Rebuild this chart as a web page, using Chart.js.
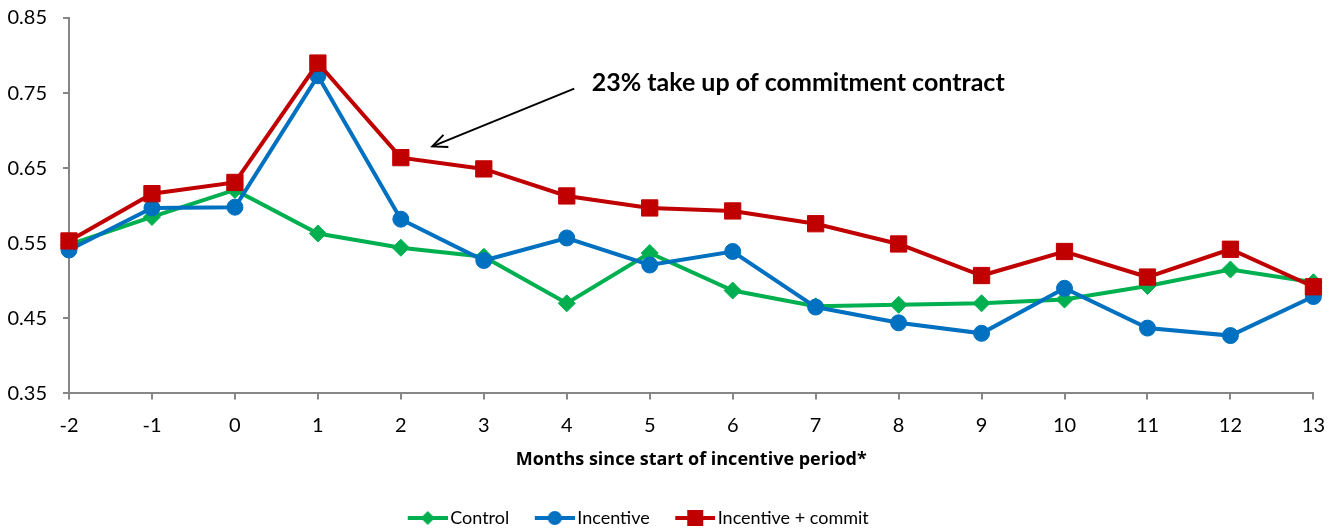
<!DOCTYPE html>
<html>
<head>
<meta charset="utf-8">
<script src="https://cdn.jsdelivr.net/npm/chart.js@4.4.1/dist/chart.umd.min.js"></script>
<style>
  html, body { margin: 0; padding: 0; background: #ffffff; }
  #wrap { width: 1339px; height: 531px; position: relative; }
</style>
</head>
<body>
<div id="wrap"><canvas id="c"></canvas></div>
<script>
// ---- data ----
const months = ['-2','-1','0','1','2','3','4','5','6','7','8','9','10','11','12','13'];
const controlValues   = [0.548, 0.585, 0.621, 0.563, 0.544, 0.532, 0.470, 0.537, 0.487, 0.466, 0.468, 0.470, 0.475, 0.493, 0.515, 0.498];
const incentiveValues = [0.541, 0.597, 0.598, 0.773, 0.582, 0.527, 0.557, 0.521, 0.539, 0.465, 0.444, 0.430, 0.490, 0.437, 0.427, 0.479];
const commitValues    = [0.553, 0.616, 0.631, 0.790, 0.664, 0.649, 0.613, 0.597, 0.593, 0.576, 0.549, 0.507, 0.539, 0.505, 0.542, 0.492];
const seriesNames = ['Control', 'Incentive', 'Incentive + commit'];
const yTickValues = [0.35, 0.45, 0.55, 0.65, 0.75, 0.85];
const xTitle = 'Months since start of incentive period*';
const annotationText = '23% take up of commitment contract';
// annotation anchor in data units (category index, value)
const annotationTextAt = [6.30, 0.763];
const arrowFrom = [6.09, 0.756];
const arrowTo = [4.38, 0.679];

const GREEN = '#00B050', BLUE = '#0070C0', RED = '#C00000';
const FONT = 'Lato, "Open Sans", sans-serif';

// legend icon: transparent left part, then a 40px line with marker in the middle
function legendIcon(color, style) {
  const c = document.createElement('canvas');
  c.width = 69; c.height = 20;
  const g = c.getContext('2d');
  const s = 29, e = 69, m = (s + e) / 2;
  g.strokeStyle = color; g.lineWidth = 4; g.lineCap = 'butt';
  g.beginPath(); g.moveTo(s, 10); g.lineTo(e, 10); g.stroke();
  g.fillStyle = color;
  g.beginPath();
  if (style === 'diamond') { g.moveTo(m, 3); g.lineTo(m + 7, 10); g.lineTo(m, 17); g.lineTo(m - 7, 10); g.closePath(); }
  else if (style === 'circle') { g.arc(m, 10, 7, 0, Math.PI * 2); }
  else { g.rect(m - 8, 2, 16, 16); }
  g.fill();
  return c;
}
const icons = [legendIcon(GREEN, 'diamond'), legendIcon(BLUE, 'circle'), legendIcon(RED, 'square')];

const annotationPlugin = {
  id: 'arrowNote',
  afterDatasetsDraw(chart) {
    const x = chart.scales.x, y = chart.scales.y, ctx = chart.ctx;
    ctx.save();
    const x1 = x.getPixelForValue(arrowFrom[0]), y1 = y.getPixelForValue(arrowFrom[1]);
    const x2 = x.getPixelForValue(arrowTo[0]), y2 = y.getPixelForValue(arrowTo[1]);
    ctx.strokeStyle = '#000'; ctx.lineWidth = 2;
    ctx.beginPath(); ctx.moveTo(x1, y1); ctx.lineTo(x2, y2); ctx.stroke();
    const ang = Math.atan2(y2 - y1, x2 - x1), L = 16, spread = 0.42;
    ctx.beginPath();
    ctx.moveTo(x2 - L * Math.cos(ang - spread), y2 - L * Math.sin(ang - spread));
    ctx.lineTo(x2, y2);
    ctx.lineTo(x2 - L * Math.cos(ang + spread), y2 - L * Math.sin(ang + spread));
    ctx.stroke();
    ctx.fillStyle = '#000';
    ctx.font = 'bold 25px ' + FONT;
    ctx.textBaseline = 'middle'; ctx.textAlign = 'left';
    ctx.fillText(annotationText, x.getPixelForValue(annotationTextAt[0]), y.getPixelForValue(annotationTextAt[1]));
    ctx.restore();
  }
};

// shift the legend block so that it sits where the original one does
const legendShift = {
  id: 'legendShift',
  afterLayout(chart) {
    const l = chart.legend;
    if (l) { l.left -= 32; l.right -= 32; l.top += 6; l.bottom += 6; }
  }
};

const ds = (label, data, color, style, radius, order) => ({
  label, data, order,
  borderColor: color, backgroundColor: color,
  borderWidth: 4, pointStyle: style, pointRadius: radius, pointHoverRadius: radius,
  pointBorderWidth: 1, pointBackgroundColor: color, pointBorderColor: color,
  tension: 0, fill: false
});

new Chart(document.getElementById('c'), {
  type: 'line',
  data: {
    labels: months,
    datasets: [
      ds(seriesNames[0], controlValues, GREEN, 'rectRot', 8.5, 3),
      ds(seriesNames[1], incentiveValues, BLUE, 'circle', 8, 2),
      ds(seriesNames[2], commitValues, RED, 'rect', 11.5, 1)
    ]
  },
  options: {
    responsive: true,
    maintainAspectRatio: false,
    animation: false,
    layout: { padding: { left: 0, right: 21, top: 18, bottom: 0 } },
    plugins: {
      tooltip: { enabled: false },
      legend: {
        position: 'bottom',
        labels: {
          usePointStyle: true,
          pointStyleWidth: 56,
          boxHeight: 18,
          padding: 3,
          color: '#000',
          font: { family: FONT, size: 18 },
          sort: (a, b) => a.datasetIndex - b.datasetIndex,
          generateLabels(chart) {
            return chart.data.datasets.map((d, i) => ({
              text: d.label, datasetIndex: i, pointStyle: icons[i],
              fillStyle: d.borderColor, strokeStyle: d.borderColor, lineWidth: 0,
              hidden: false, fontColor: '#000'
            }));
          }
        }
      }
    },
    scales: {
      x: {
        type: 'category',
        offset: false,
        grid: { display: true, drawOnChartArea: false, drawTicks: true, tickLength: 6, color: '#868686', lineWidth: 2 },
        border: { display: true, color: '#868686', width: 2 },
        ticks: { color: '#000', font: { family: FONT, size: 20 }, padding: 14, maxRotation: 0, autoSkip: false },
        title: { display: true, text: xTitle, color: '#000', font: { family: '"Open Sans", sans-serif', size: 18, weight: 'bold' }, padding: { top: -2, bottom: 29 } }
      },
      y: {
        min: 0.35, max: 0.85,
        afterBuildTicks(axis) { axis.ticks = yTickValues.map(v => ({ value: v })); },
        afterFit(axis) { axis.width = 69; axis.paddingTop = 0; axis.paddingBottom = 0; },
        grid: { display: true, drawOnChartArea: false, drawTicks: true, tickLength: 6, color: '#868686', lineWidth: 2 },
        border: { display: true, color: '#868686', width: 2 },
        ticks: { color: '#000', font: { family: FONT, size: 20 }, padding: 16, callback: v => Number(v).toFixed(2) }
      }
    }
  },
  plugins: [annotationPlugin, legendShift]
});
</script>
</body>
</html>
